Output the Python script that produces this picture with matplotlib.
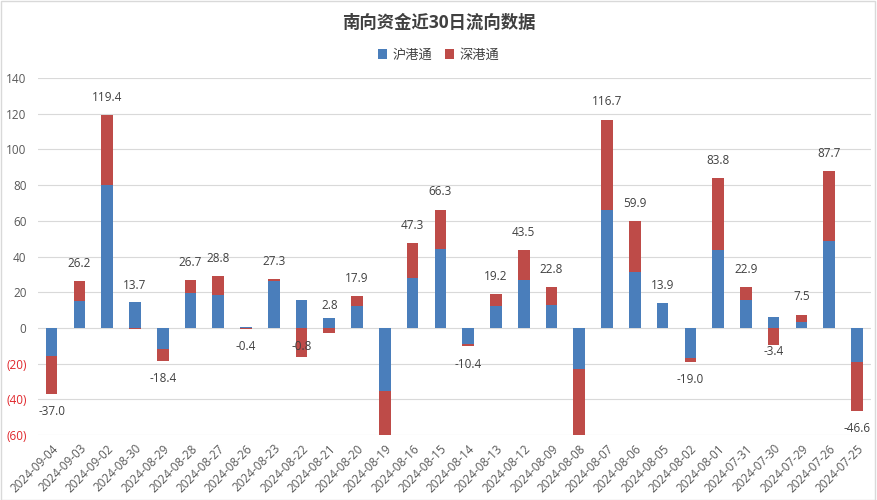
import matplotlib
matplotlib.use("Agg")
import matplotlib.pyplot as plt
from matplotlib.ticker import FixedLocator
from matplotlib.patches import Rectangle
import numpy as np

plt.rcParams['font.family'] = ['Open Sans', 'Noto Sans CJK SC', 'DejaVu Sans']

dates = ["2024-09-04", "2024-09-03", "2024-09-02", "2024-08-30", "2024-08-29",
         "2024-08-28", "2024-08-27", "2024-08-26", "2024-08-23", "2024-08-22",
         "2024-08-21", "2024-08-20", "2024-08-19", "2024-08-16", "2024-08-15",
         "2024-08-14", "2024-08-13", "2024-08-12", "2024-08-09", "2024-08-08",
         "2024-08-07", "2024-08-06", "2024-08-05", "2024-08-02", "2024-08-01",
         "2024-07-31", "2024-07-30", "2024-07-29", "2024-07-26", "2024-07-25"]
sh_hk = [-16.0, 15.0, 80.0, 14.3, -11.8, 19.6, 18.3, 0.3, 26.1, 15.5,
         5.8, 12.5, -35.5, 28.0, 44.2, -8.8, 12.1, 26.7, 13.1, -23.3,
         66.3, 31.5, 14.1, -16.6, 43.9, 15.9, 6.0, 3.2, 48.5, -19.0]
sz_hk = [-21.0, 11.2, 39.4, -0.6, -6.6, 7.1, 10.5, -0.7, 1.2, -16.3,
         -3.0, 5.4, -40.0, 19.3, 22.1, -1.6, 7.1, 16.8, 9.7, -47.0,
         50.4, 28.4, -0.2, -2.4, 39.9, 7.0, -9.4, 4.3, 39.2, -27.6]
series_names = ["沪港通", "深港通"]
yticks = [-60, -40, -20, 0, 20, 40, 60, 80, 100, 120, 140]

blue = "#4A7EBB"
red = "#BE4B48"
txt = "#404040"

fig = plt.figure(figsize=(8.77, 5.0), dpi=100)
ax = fig.add_axes([0.043, 0.13, 0.95, 0.714])

x = np.arange(len(dates))
a = np.array(sh_hk)
b = np.array(sz_hk)
w = 0.42
ax.bar(x, a, width=w, color=blue, label=series_names[0], zorder=2)
b_bottom = np.where((b >= 0) == (a >= 0), a, 0.0)
ax.bar(x, b, width=w, bottom=b_bottom, color=red, label=series_names[1], zorder=2)

tot = a + b
for xi, t in zip(x, tot):
    if t < -60 or t > 140:
        continue
    off = 8 if t >= 0 else -8
    ax.annotate(f"{t:.1f}", (xi, t), xytext=(0, off), textcoords="offset points",
                ha="center", va="bottom" if t >= 0 else "top",
                fontsize=8.5, color=txt, zorder=3)

ax.set_xlim(-0.5, len(dates) - 0.5)
ax.set_ylim(-60, 140)
ax.yaxis.set_major_locator(FixedLocator(yticks))
ax.set_yticks(yticks)
ax.set_yticklabels([f"({abs(v)})" if v < 0 else f"{v}" for v in yticks])
for lbl, v in zip(ax.get_yticklabels(), yticks):
    lbl.set_color("#E0262B" if v < 0 else "#595959")
ax.set_xticks(x)
ax.set_xticklabels(dates, rotation=45, ha="right", rotation_mode="anchor",
                   color="#595959", fontsize=8.5)
ax.tick_params(axis="y", labelsize=8.5, length=0, pad=8)
ax.tick_params(axis="x", length=0, pad=5)
ax.grid(axis="y", color="#D9D9D9", linewidth=0.8, zorder=0)
for s in ax.spines.values():
    s.set_visible(False)

fig.text(0.5, 0.955, "南向资金近30日流向数据", ha="center", va="center",
         fontsize=12.5, fontweight="bold", color=txt)
leg = fig.legend(loc="center", bbox_to_anchor=(0.5, 0.89), ncol=2, frameon=False,
                 fontsize=9.5, handlelength=0.7, handleheight=0.7, columnspacing=1.0,
                 handletextpad=0.4)
for t in leg.get_texts():
    t.set_color(txt)

fig.patches.append(Rectangle((0.001, 0.001), 0.997, 0.997, transform=fig.transFigure,
                             fill=False, edgecolor="#D9D9D9", linewidth=1))

fig.savefig("out.png", dpi=100)
